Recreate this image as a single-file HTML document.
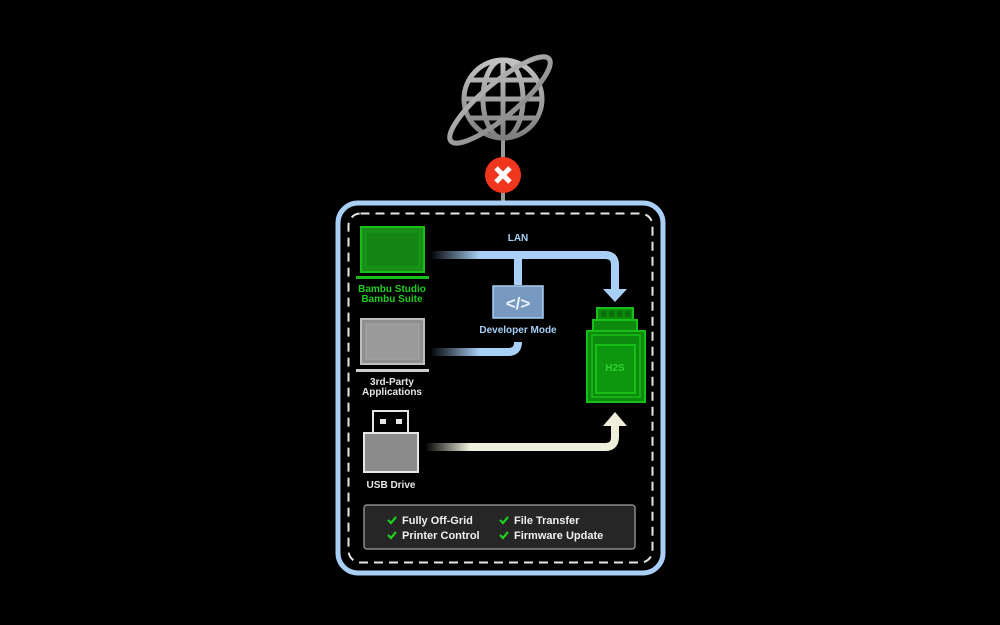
<!DOCTYPE html>
<html><head><meta charset="utf-8"><style>
html,body{margin:0;padding:0;background:#000;}
svg{display:block;}
text{font-family:"Liberation Sans",sans-serif;font-weight:bold;}
</style></head><body>
<svg width="1000" height="625" viewBox="0 0 1000 625" xmlns="http://www.w3.org/2000/svg">
<defs>
<linearGradient id="gg" x1="0" y1="45" x2="0" y2="150" gradientUnits="userSpaceOnUse"><stop offset="0" stop-color="#cfcfcf"/><stop offset="1" stop-color="#747474"/></linearGradient>
<linearGradient id="lb" x1="430" y1="0" x2="480" y2="0" gradientUnits="userSpaceOnUse"><stop offset="0" stop-color="#a8cff5" stop-opacity="0"/><stop offset="1" stop-color="#a8cff5"/></linearGradient>
<linearGradient id="cr" x1="425" y1="0" x2="470" y2="0" gradientUnits="userSpaceOnUse"><stop offset="0" stop-color="#efeedd" stop-opacity="0"/><stop offset="1" stop-color="#efeedd"/></linearGradient>
<clipPath id="gc"><circle cx="503" cy="99" r="39"/></clipPath>
</defs>
<line x1="503" y1="140" x2="503" y2="203" stroke="#9a9a9a" stroke-width="4"/>
<g stroke="url(#gg)" fill="none" stroke-width="5">
<circle cx="503" cy="99" r="39"/>
<g clip-path="url(#gc)">
<ellipse cx="503" cy="99" rx="20" ry="39"/>
<line x1="503" y1="58" x2="503" y2="140"/>
<line x1="460" y1="80" x2="546" y2="80"/>
<line x1="460" y1="99" x2="546" y2="99"/>
<line x1="460" y1="118" x2="546" y2="118"/>
</g>
<ellipse cx="500" cy="100" rx="64" ry="17" transform="rotate(-40 500 100)"/>
</g>
<circle cx="503" cy="175" r="18" fill="#f0361c"/>
<path d="M496 168 L510 182 M510 168 L496 182" stroke="#fff" stroke-width="5"/>
<rect x="338" y="203" width="325" height="370" rx="20" fill="none" stroke="#a8cff5" stroke-width="5"/>
<rect x="348.5" y="213.5" width="304" height="349" rx="12" fill="none" stroke="#e6e6e6" stroke-width="2" stroke-dasharray="9,6"/>
<path d="M430 255 H605 Q615 255 615 265 V290" fill="none" stroke="url(#lb)" stroke-width="8"/>
<path d="M603 289 H627 L615 302 Z" fill="#a8cff5"/>
<rect x="514" y="255" width="8" height="30" fill="#a8cff5"/>
<text x="518" y="241" fill="#a8cff5" font-size="10" text-anchor="middle">LAN</text>
<rect x="493" y="286" width="50" height="32" fill="#7899bf" stroke="#a8cff5" stroke-width="1.5"/>
<text x="518" y="309" fill="#e8f2ff" font-size="17" text-anchor="middle" font-family="Liberation Mono,monospace">&lt;/&gt;</text>
<text x="518" y="333" fill="#a8cff5" font-size="10" text-anchor="middle">Developer Mode</text>
<path d="M430 352 H508 Q518 352 518 342" fill="none" stroke="url(#lb)" stroke-width="8"/>
<path d="M425 447 H605 Q615 447 615 437 V425" fill="none" stroke="url(#cr)" stroke-width="8"/>
<path d="M603 426 H627 L615 412 Z" fill="#efeedd"/>
<rect x="361" y="227" width="63" height="45" fill="#1a8c1a" stroke="#16c016" stroke-width="2"/>
<rect x="366" y="232" width="53" height="35" fill="#148414" stroke="#10a010" stroke-width="1"/>
<rect x="356" y="276" width="73" height="3" fill="#16c016"/>
<text x="392" y="292" fill="#1fcf1f" font-size="10" text-anchor="middle">Bambu Studio</text>
<text x="392" y="302" fill="#1fcf1f" font-size="10" text-anchor="middle">Bambu Suite</text>
<rect x="361" y="319" width="63" height="45" fill="#8f8f8f" stroke="#bdbdbd" stroke-width="2"/>
<rect x="366" y="324" width="53" height="35" fill="#9a9a9a" stroke="#aaa" stroke-width="1"/>
<rect x="356" y="369" width="73" height="3" fill="#cfcfcf"/>
<text x="392" y="385" fill="#e6e6e6" font-size="10" text-anchor="middle">3rd-Party</text>
<text x="392" y="395" fill="#e6e6e6" font-size="10" text-anchor="middle">Applications</text>
<rect x="373" y="411" width="35" height="22" fill="#000" stroke="#e6e6e6" stroke-width="2"/>
<rect x="380" y="419" width="6" height="5" fill="#e6e6e6"/>
<rect x="396" y="419" width="6" height="5" fill="#e6e6e6"/>
<rect x="364" y="433" width="54" height="39" fill="#8c8c8c" stroke="#e6e6e6" stroke-width="2"/>
<text x="391" y="488" fill="#e6e6e6" font-size="10" text-anchor="middle">USB Drive</text>
<g stroke="#16c016" stroke-width="2" fill="#0d8a0d">
<rect x="597" y="308" width="36" height="12"/>
<rect x="593" y="320" width="44" height="11"/>
<rect x="587" y="331" width="58" height="71"/>
<rect x="592" y="335" width="48" height="62" fill="none" stroke-width="1.5"/>
<rect x="596" y="345" width="39" height="48" fill="#0f960f"/>
</g>
<g fill="#0a6e0a"><rect x="601" y="311" width="5" height="6"/><rect x="609" y="311" width="5" height="6"/><rect x="617" y="311" width="5" height="6"/><rect x="625" y="311" width="5" height="6"/></g>
<text x="615" y="371" fill="#2fd02f" font-size="10" text-anchor="middle">H2S</text>
<rect x="364" y="505" width="271" height="44" rx="3" fill="#262626" stroke="#8a8a8a" stroke-width="1.5"/>
<g font-size="11" fill="#f0f0f0">
<text x="402" y="524">Fully Off-Grid</text>
<text x="402" y="539">Printer Control</text>
<text x="514" y="524">File Transfer</text>
<text x="514" y="539">Firmware Update</text>
</g>
<g fill="none" stroke="#1fcf1f" stroke-width="2.2">
<path d="M388 520 l3 3 l5 -6"/><path d="M388 535 l3 3 l5 -6"/>
<path d="M500 520 l3 3 l5 -6"/><path d="M500 535 l3 3 l5 -6"/>
</g>
</svg>
</body></html>
